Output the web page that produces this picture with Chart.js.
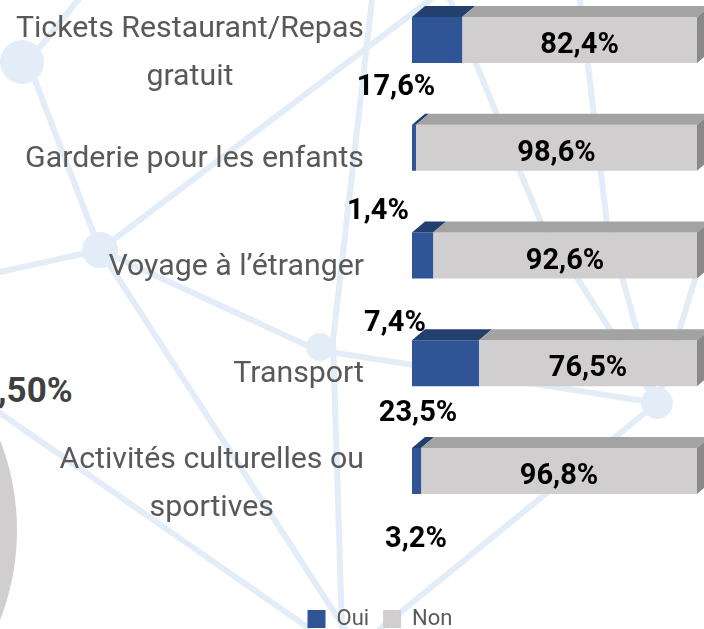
<!DOCTYPE html>
<html>
<head>
<meta charset="utf-8">
<script src="https://cdn.jsdelivr.net/npm/chart.js@4.4.1/dist/chart.umd.min.js"></script>
<style>
  html, body { margin: 0; padding: 0; background: #ffffff; overflow: hidden; }
  #wrap { position: relative; width: 704px; height: 629px; overflow: hidden; background: #ffffff; }
  #bg { position: absolute; left: 0; top: 0; }
  #pie { position: absolute; left: -477px; top: 283px; width: 494px; height: 494px; border-radius: 50%; background: #d0cece; }
  #pct { position: absolute; left: -2px; top: 371px; font: bold 35px Roboto, sans-serif; color: #404040; line-height: 40px; }
  #box { position: absolute; left: 0; top: 0; width: 704px; height: 640px; }
</style>
</head>
<body>
<div id="wrap">
  <svg id="bg" width="704" height="629" xmlns="http://www.w3.org/2000/svg">
    <g stroke="#e3edf7" stroke-width="6" fill="none" stroke-linecap="round">
      <line x1="28" y1="62" x2="100" y2="250"/>
      <line x1="28" y1="62" x2="78" y2="0"/>
      <line x1="100" y1="250" x2="430" y2="0"/>
      <line x1="100" y1="250" x2="0" y2="272"/>
      <line x1="100" y1="250" x2="345" y2="629"/>
      <line x1="0" y1="413" x2="310" y2="629"/>
      <line x1="372" y1="0" x2="333" y2="340"/>
      <line x1="333" y1="340" x2="342" y2="629"/>
      <line x1="100" y1="250" x2="317" y2="350"/>
      <line x1="317" y1="350" x2="657" y2="403"/>
      <line x1="657" y1="403" x2="380" y2="629"/>
      <polyline points="450,0 540,220 657,403"/>
      <polyline points="580,0 607,223 657,403"/>
      <line x1="704" y1="250" x2="657" y2="403"/>
    </g>
    <g fill="#e3edf7">
      <circle cx="22" cy="62" r="22"/>
      <circle cx="100" cy="250" r="18"/>
      <circle cx="320" cy="347" r="14"/>
      <circle cx="657" cy="403" r="16"/>
    </g>
  </svg>
  <div id="pie"></div>
  <div id="pct">,50%</div>
  <div id="box"><canvas id="chart"></canvas></div>
</div>
<script>
// ---- data ----
const categories = [
  ["Tickets Restaurant/Repas", "gratuit"],
  "Garderie pour les enfants",
  "Voyage à l’étranger",
  "Transport",
  ["Activités culturelles ou", "sportives"]
];
const seriesNames = ["Oui", "Non"];
const ouiValues = [17.6, 1.4, 7.4, 23.5, 3.2];
const nonValues = [82.4, 98.6, 92.6, 76.5, 96.8];

// ---- styles / positions (not data) ----
const COLORS = {
  ouiFront: "#2f5597", ouiTop: "#233f6e",
  nonFront: "#d0cece", nonTop: "#a3a3a3", nonSide: "#898989",
  label: "#595959", value: "#000000"
};
const DEPTH = { dx: 13, dy: 11 };
const ouiLabelOffsets = [[-16, 45], [-34, 61], [-17, 65], [6, 48], [4, 66]];
const CAT_FONT = "30.3px Roboto, sans-serif";
const VAL_FONT = "bold 29px Roboto, sans-serif";
const CAT_LINE = 48;

function fmt(v) { return v.toFixed(1).replace('.', ',') + '%'; }

const threeD = {
  id: 'threeD',
  afterDatasetsDraw(chart) {
    const ctx = chart.ctx;
    const m0 = chart.getDatasetMeta(0), m1 = chart.getDatasetMeta(1);
    const { dx, dy } = DEPTH;
    ctx.save();
    m0.data.forEach((b0, i) => {
      const b1 = m1.data[i];
      const top = b0.y - b0.height / 2, bottom = b0.y + b0.height / 2;
      const poly = (pts, color) => {
        ctx.beginPath();
        ctx.moveTo(pts[0][0], pts[0][1]);
        for (let k = 1; k < pts.length; k++) ctx.lineTo(pts[k][0], pts[k][1]);
        ctx.closePath();
        ctx.fillStyle = color;
        ctx.fill();
      };
      poly([[b0.base, top], [b0.base + dx, top - dy], [b0.x + dx, top - dy], [b0.x, top]], COLORS.ouiTop);
      poly([[b1.base, top], [b1.base + dx, top - dy], [b1.x + dx, top - dy], [b1.x, top]], COLORS.nonTop);
      poly([[b1.x, top], [b1.x + dx, top - dy], [b1.x + dx, bottom - dy], [b1.x, bottom]], COLORS.nonSide);
    });
    ctx.restore();
  }
};

const labelsPlugin = {
  id: 'labelsPlugin',
  afterDraw(chart) {
    const ctx = chart.ctx;
    const yScale = chart.scales.y;
    const m0 = chart.getDatasetMeta(0), m1 = chart.getDatasetMeta(1);
    ctx.save();
    // category labels
    ctx.font = CAT_FONT;
    ctx.fillStyle = COLORS.label;
    ctx.textBaseline = 'alphabetic';
    ctx.textAlign = 'center';
    const rightEdge = chart.chartArea.left - 48;
    categories.forEach((c, i) => {
      const lines = Array.isArray(c) ? c : [c];
      const w = Math.max(...lines.map(l => ctx.measureText(l).width));
      const cx = rightEdge - w / 2;
      const yc = yScale.getPixelForValue(i);
      const shift = lines.length > 1 ? 21 : 19;
      const first = yc + shift - (lines.length - 1) * CAT_LINE / 2;
      lines.forEach((l, k) => ctx.fillText(l, cx, first + k * CAT_LINE));
    });
    // value labels
    ctx.font = VAL_FONT;
    ctx.fillStyle = COLORS.value;
    ctx.textAlign = 'center';
    m1.data.forEach((b, i) => {
      ctx.fillText(fmt(nonValues[i]), (b.base + b.x) / 2, b.y + 13);
    });
    m0.data.forEach((b, i) => {
      const o = ouiLabelOffsets[i];
      ctx.fillText(fmt(ouiValues[i]), b.base + o[0], b.y + o[1] + 10);
    });
    ctx.restore();
  }
};

new Chart(document.getElementById('chart'), {
  type: 'bar',
  data: {
    labels: categories,
    datasets: [
      { label: seriesNames[0], data: ouiValues, backgroundColor: COLORS.ouiFront, borderWidth: 0, clip: false },
      { label: seriesNames[1], data: nonValues, backgroundColor: COLORS.nonFront, borderWidth: 0, clip: false }
    ]
  },
  options: {
    indexAxis: 'y',
    responsive: true,
    maintainAspectRatio: false,
    animation: false,
    layout: { padding: { left: 63, right: 7, top: 40, bottom: 0 } },
    datasets: { bar: { categoryPercentage: 1, barPercentage: 0.427 } },
    scales: {
      x: {
        stacked: true, min: 0, max: 100,
        ticks: { display: false }, grid: { display: false }, border: { display: false },
        afterFit(s) { s.height = 123; }
      },
      y: {
        stacked: true, offset: false,
        ticks: { display: false }, grid: { display: false }, border: { display: false },
        afterFit(s) { s.width = 349; }
      }
    },
    plugins: {
      legend: {
        position: 'bottom',
        labels: {
          boxWidth: 18, boxHeight: 18, padding: 14,
          color: COLORS.label,
          font: { family: 'Roboto, sans-serif', size: 22 }
        }
      },
      tooltip: { enabled: false }
    }
  },
  plugins: [threeD, labelsPlugin]
});
</script>
</body>
</html>
